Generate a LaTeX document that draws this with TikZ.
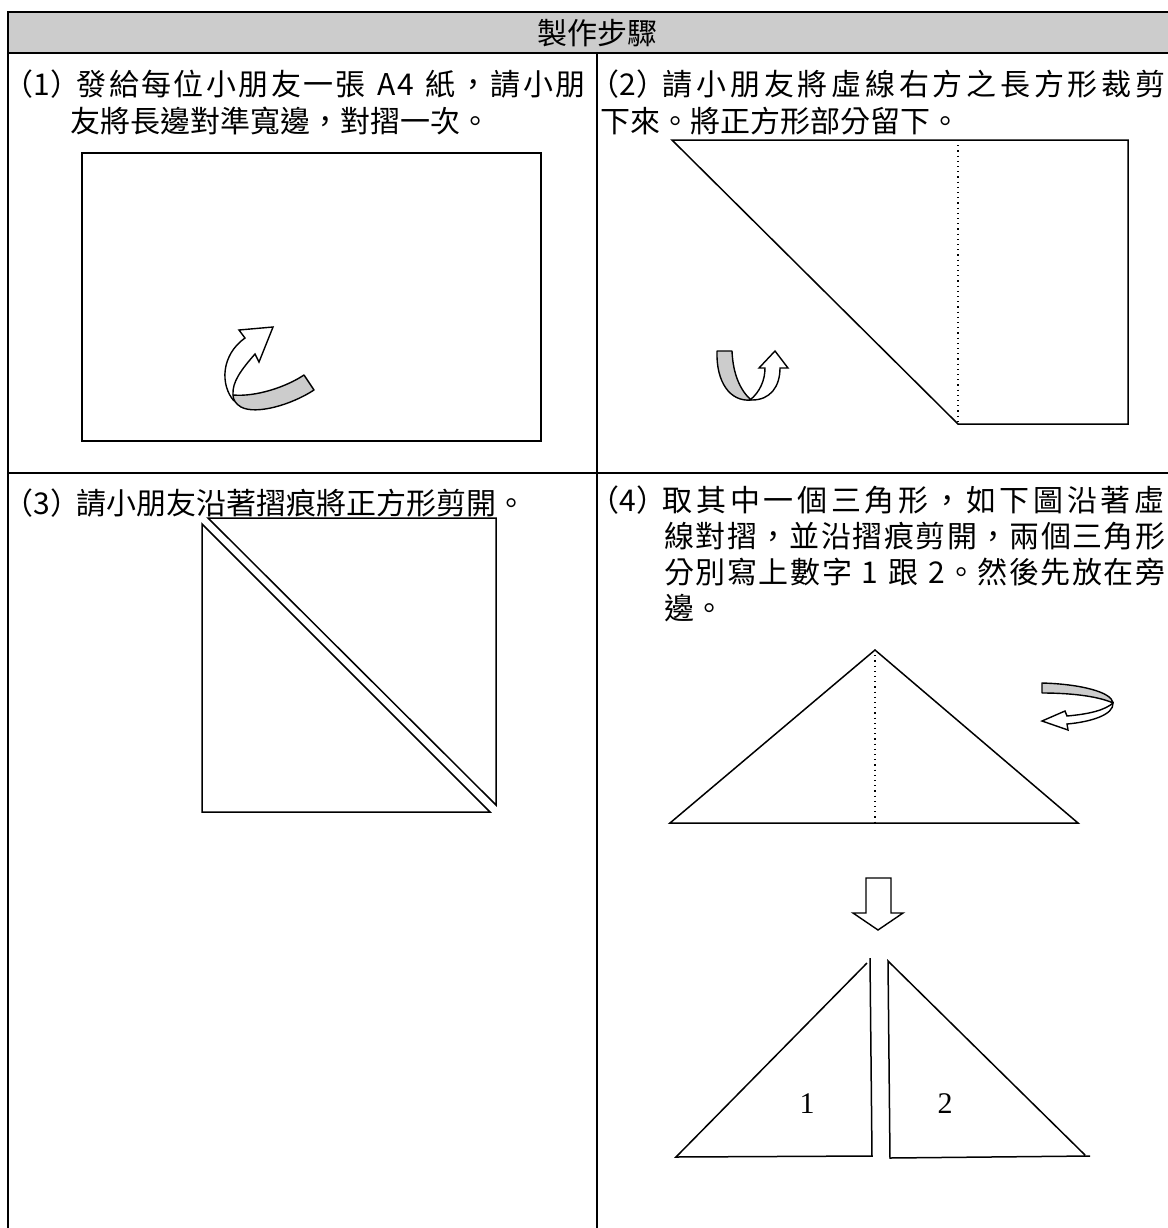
\documentclass[tikz,border=0pt]{standalone}
\usepackage{fontspec}
\newfontfamily\cjk{Noto Sans CJK TC}
\newfontfamily\tnr{Liberation Serif}
\definecolor{headgray}{gray}{0.8}
\definecolor{bandgray}{gray}{0.8}
\newcommand{\stepno}[1]{\kern-0.55em（#1）\kern-0.12em}
\def\spreadtext#1{#1\spreadloop}
\def\spreadloop#1{\ifx\relax#1\else\hfil#1\expandafter\spreadloop\fi}
\newcommand{\fullline}[2]{\makebox[#1][s]{#2}}
\begin{document}
\begin{tikzpicture}[x=0.5pt,y=-0.5pt,
		frame/.style={line width=1pt},
		paper/.style={line width=0.75pt},
		fold/.style={line width=0.6pt,dotted},
		band/.style={fill=bandgray,draw=black,line width=0.7pt,line join=round},
		hollow/.style={fill=white,draw=black,line width=0.7pt,line join=miter},
		steptext/.style={anchor=west,inner sep=0pt,font=\cjk\fontsize{15}{15}\selectfont}
	]
			\useasboundingbox (0,0) rectangle (1168,1228);
			% table
			\fill[headgray] (8,12) rectangle (1190,53);
			\draw[frame] (1190,12) -- (8,12) -- (8,1240);
			\draw[frame] (8,53) -- (1190,53);
			\draw[frame] (8,473) -- (1190,473);
			\draw[frame] (597,53) -- (597,1240);
			\node[font=\cjk\fontsize{15}{15}\selectfont] (head) at (597,33) {製作步驟};
			% texts
			\node[steptext] (stepA) at (20,84)
				{\fullline{282.5pt}{\stepno{1}\spreadtext 發給每位小朋友一張~A4~紙，請小朋\relax}};
			\node[steptext] (stepAb) at (70,121) {友將長邊對準寬邊，對摺一次。};
			\node[steptext] (stepB) at (606,84)
				{\fullline{279.5pt}{\stepno{2}\spreadtext 請小朋友將虛線右方之長方形裁剪\relax}};
			\node[steptext] (stepBb) at (600,121) {下來。將正方形部分留下。};
			\node[steptext] (stepC) at (20,503) {\stepno{3}請小朋友沿著摺痕將正方形剪開。};
			\node[steptext] (stepD) at (606,500)
				{\fullline{279pt}{\stepno{4}\spreadtext 取其中一個三角形，如下圖沿著虛\relax}};
			\node[steptext] (stepDb) at (664,536)
				{\fullline{250.5pt}{\spreadtext 線對摺，並沿摺痕剪開，兩個三角形\relax}};
			\node[steptext] (stepDc) at (664,572)
				{\fullline{250.5pt}{\spreadtext 分別寫上數字~1~跟~2。然後先放在旁\relax}};
			\node[steptext] (stepDd) at (664,608) {邊。};
			% step 1
			\draw[paper] (82,153) rectangle (541,441);
			\begin{scope}[shift={(-4,25)}]
				\draw[hollow] (238,376) .. controls (224,360) and (225,330) .. (249,313)
					-- (243,305) -- (277,302) -- (263,337) -- (259,329)
					.. controls (245,345) and (236,357) .. (237,370);
				\draw[band] (237,370) .. controls (260,372) and (290,362) .. (308,350) -- (318,365)
					.. controls (295,380) and (260,390) .. (245,382)
					.. controls (240,379) and (237,375) .. (237,370) -- cycle;
			\end{scope}
			% step 2
			\draw[paper] (672,140) -- (1128,140) -- (1128,424) -- (958,424) -- cycle;
			\draw[fold] (958,140) -- (958,424);
			\begin{scope}[shift={(0,22)}]
				\draw[hollow] (750,378) .. controls (760,370) and (765,358) .. (765,346)
					-- (759,346) -- (775,329) -- (788,346) -- (780,346)
					.. controls (780,365) and (770,378) .. (752,378) -- cycle;
				\draw[band] (717,329) -- (732,329) .. controls (733,352) and (740,368) .. (751,378)
					.. controls (730,380) and (716,360) .. (717,329) -- cycle;
			\end{scope}
			% step 3
			\draw[paper] (208,518) -- (496,518) -- (496,805) -- cycle;
			\draw[paper] (202,524) -- (202,812) -- (490,812) -- cycle;
			% step 4
			\draw[paper] (670,823) -- (875,650) -- (1078,823) -- cycle;
			\draw[fold] (875,650) -- (875,823);
			\draw[band] (1042,683) .. controls (1080,684) and (1112,692) .. (1113,703)
				.. controls (1100,697) and (1075,693) .. (1042,693) -- cycle;
			\draw[hollow] (1113,703) .. controls (1114,715) and (1090,722) .. (1067,724)
				-- (1068,730) -- (1042,721) -- (1065,711) -- (1067,716)
				.. controls (1090,714) and (1105,710) .. (1113,703) -- cycle;
			\draw[hollow] (866,878) -- (891,878) -- (891,913) -- (903,913) -- (878,930)
				-- (853,913) -- (866,913) -- cycle;
			\draw[paper] (870,958) -- (872,1156) -- (676,1157) -- (867,963);
			\draw[paper] (1085,1155) -- (888,961) -- (890,1158) -- (1090,1156);
			\node[font=\tnr\fontsize{15}{15}\selectfont] (one) at (807,1104) {1};
			\node[font=\tnr\fontsize{15}{15}\selectfont] (two) at (945,1104) {2};
		\end{tikzpicture}
\end{document}
